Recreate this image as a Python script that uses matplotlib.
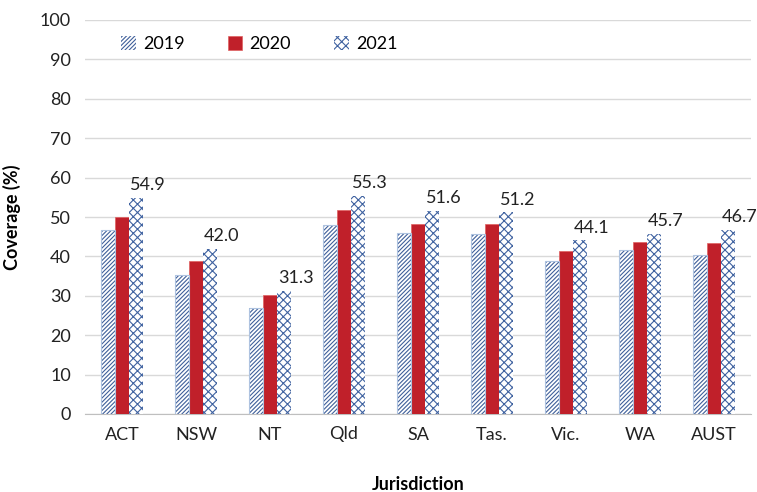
import numpy as np
import matplotlib
matplotlib.use("Agg")
import matplotlib.pyplot as plt

# Data
jurisdictions = ["ACT", "NSW", "NT", "Qld", "SA", "Tas.", "Vic.", "WA", "AUST"]
cov_2019 = [46.7, 35.3, 26.9, 48.0, 45.9, 45.7, 38.8, 41.5, 40.3]
cov_2020 = [50.1, 38.8, 30.2, 51.9, 48.2, 48.2, 41.4, 43.6, 43.5]
cov_2021 = [54.9, 42.0, 31.3, 55.3, 51.6, 51.2, 44.1, 45.7, 46.7]

plt.rcParams['font.family'] = ['Lato', 'DejaVu Sans']
plt.rcParams['hatch.linewidth'] = 0.8

fig = plt.figure(figsize=(7.57, 4.92), dpi=100)
ax = fig.add_axes([85 / 757, 78 / 492, 666 / 757, 394 / 492])

x = np.arange(len(jurisdictions))
w = 0.19

ax.bar(x - w, cov_2019, w, facecolor='white', edgecolor='#3f5f9a',
       hatch='////////', linewidth=0, label='2019', zorder=3)
ax.bar(x - w, cov_2019, w, facecolor='none', edgecolor='#aec3e0',
       linewidth=0.8, zorder=4)
ax.bar(x, cov_2020, w, color='#c0202a', edgecolor='#e06060', linewidth=0.5,
       label='2020', zorder=3)
ax.bar(x + w, cov_2021, w, facecolor='white', edgecolor='#3f62a0',
       hatch='xxxx', linewidth=0, label='2021', zorder=3)

for xi, v in zip(x, cov_2021):
    ax.text(xi + w + 0.16, v + 1.2, f"{v:.1f}", ha='center', va='bottom',
            fontsize=13, color='#222222')

ax.set_xlim(-0.5, len(jurisdictions) - 0.5)
ax.set_ylim(0, 100)
ax.set_yticks(range(0, 101, 10))
ax.set_xticks(x)
ax.set_xticklabels(jurisdictions)
ax.tick_params(length=0, labelsize=13, colors='#222222')
ax.tick_params(axis='x', pad=9)
ax.tick_params(axis='y', pad=10)
ax.grid(axis='y', color='#d9d9d9', linewidth=1, zorder=0)
for s in ['top', 'right', 'left']:
    ax.spines[s].set_visible(False)
ax.spines['bottom'].set_color('#bfbfbf')

ax.set_ylabel("Coverage (%)", fontsize=13, fontweight='bold', labelpad=14)
ax.set_xlabel("Jurisdiction", fontsize=13, fontweight='bold', labelpad=24)

ax.legend(loc='upper left', bbox_to_anchor=(0.03, 1.0), ncol=3, frameon=False,
          fontsize=13, handlelength=0.8, handleheight=0.8, columnspacing=2.4,
          handletextpad=0.4)

fig.savefig("out.png", dpi=100)
